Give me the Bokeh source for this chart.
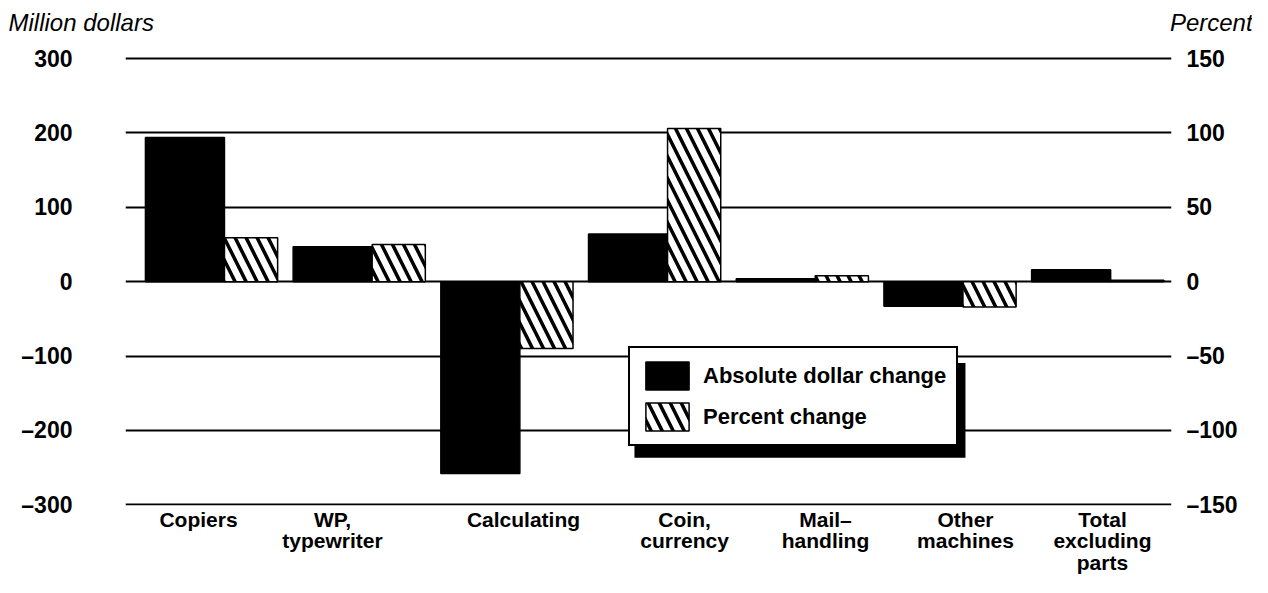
from bokeh.plotting import figure
from bokeh.models import (Range1d, LinearAxis, FixedTicker, Legend, LegendItem,
                          Label, BoxAnnotation, ColumnDataSource)
from bokeh.embed import file_html
from bokeh.resources import INLINE

# ---- data ----
categories = ["Copiers", "WP,\ntypewriter", "Calculating", "Coin,\ncurrency",
              "Mail\u2013\nhandling", "Other\nmachines", "Total\nexcluding\nparts"]
dollar_change = [194, 47, -258, 64, 4, -33, 16]        # million dollars
percent_change = [29.5, 25, -45, 103, 4, -17, 1]       # percent
left_ticks = [-300, -200, -100, 0, 100, 200, 300]
right_ticks = [-150, -100, -50, 0, 50, 100, 150]

# ---- layout helpers (not data) ----
label_shift = [-0.088, -0.181, 0.112, 0.203, 0.157, 0.105, 0.032]
ABS_W = 0.535
PCT_W = 0.36
FONT = "Liberation Sans"

n = len(categories)
idx = list(range(n))
src = ColumnDataSource(dict(
    x_abs=[i + ABS_W / 2 for i in idx],
    x_pct=[i + ABS_W + PCT_W / 2 for i in idx],
    dollars=dollar_change,
    pct=percent_change,
))

def dash(v):
    return str(v).replace("-", "\u2013")

p = figure(width=1252, height=577,
           x_range=Range1d(-0.135, 6.947), y_range=Range1d(-301, 305.5),
           output_backend="svg", toolbar_location=None,
           min_border_left=125, min_border_right=81,
           min_border_top=53, min_border_bottom=72,
           outline_line_color=None, background_fill_color="white",
           border_fill_color="white")
p.extra_y_ranges = {"pct": Range1d(-150.5, 152.75)}

p.xgrid.visible = False
p.ygrid.ticker = FixedTicker(ticks=left_ticks)
p.ygrid.grid_line_color = "black"
p.ygrid.grid_line_width = 2
p.ygrid.grid_line_alpha = 1

abs_r = p.vbar(x="x_abs", width=ABS_W, top="dollars", bottom=0, source=src,
               fill_color="black", line_color="black", line_width=1.5)
pct_r = p.vbar(x="x_pct", width=PCT_W, top="pct", bottom=0, source=src,
               y_range_name="pct", fill_color="white", line_color="black",
               line_width=1.5, hatch_pattern="left_diagonal_line",
               hatch_color="black", hatch_weight=3.5, hatch_scale=22)

def style_axis(ax, size):
    ax.axis_line_color = None
    ax.major_tick_line_color = None
    ax.minor_tick_line_color = None
    ax.major_tick_out = 0
    ax.major_tick_in = 0
    ax.minor_tick_out = 0
    ax.major_label_text_font = FONT
    ax.major_label_text_font_style = "bold"
    ax.major_label_text_font_size = size
    ax.major_label_text_color = "black"

ly = p.yaxis[0]
ly.ticker = FixedTicker(ticks=left_ticks)
ly.major_label_overrides = {t: dash(t) for t in left_ticks}
style_axis(ly, "23px")
ly.major_label_standoff = 53

ry = LinearAxis(y_range_name="pct", ticker=FixedTicker(ticks=right_ticks))
ry.major_label_overrides = {t: dash(t) for t in right_ticks}
style_axis(ry, "23px")
ry.major_label_standoff = 15
p.add_layout(ry, "right")

tick_pos = [round(i + (ABS_W + PCT_W) / 2 + label_shift[i], 4) for i in idx]
bx = p.xaxis[0]
bx.ticker = FixedTicker(ticks=tick_pos)
bx.major_label_overrides = {t: c for t, c in zip(tick_pos, categories)}
style_axis(bx, "21px")
bx.major_label_standoff = 2
bx.major_label_text_line_height = 0.95

# unit headers, placed in the top panel so they are not clipped to the frame
p.add_layout(Label(x=-0.927, y=348, text="Million dollars", text_font=FONT,
                   text_font_style="italic", text_font_size="24px",
                   text_color="black", text_align="left",
                   text_baseline="alphabetic"), "above")
p.add_layout(Label(x=7.496, y=348, text="Percent", text_font=FONT,
                   text_font_style="italic", text_font_size="24px",
                   text_color="black", text_align="right",
                   text_baseline="alphabetic"), "above")

p.add_layout(BoxAnnotation(left=3.311, right=5.552, top=-109.3, bottom=-236.8,
                           fill_color="black", fill_alpha=1, line_color=None))
legend = Legend(items=[LegendItem(label="Absolute dollar change", renderers=[abs_r]),
                       LegendItem(label="Percent change", renderers=[pct_r])],
                location=(503, 59), padding=10, margin=0,
                glyph_width=54, glyph_height=35, spacing=6, label_standoff=9,
                label_text_font=FONT, label_text_font_style="bold",
                label_text_font_size="22px", label_text_color="black",
                border_line_color="black", border_line_width=2,
                border_line_alpha=1,
                background_fill_color="white", background_fill_alpha=1)
p.add_layout(legend, "center")

open("out.html", "w").write(file_html(p, INLINE))
